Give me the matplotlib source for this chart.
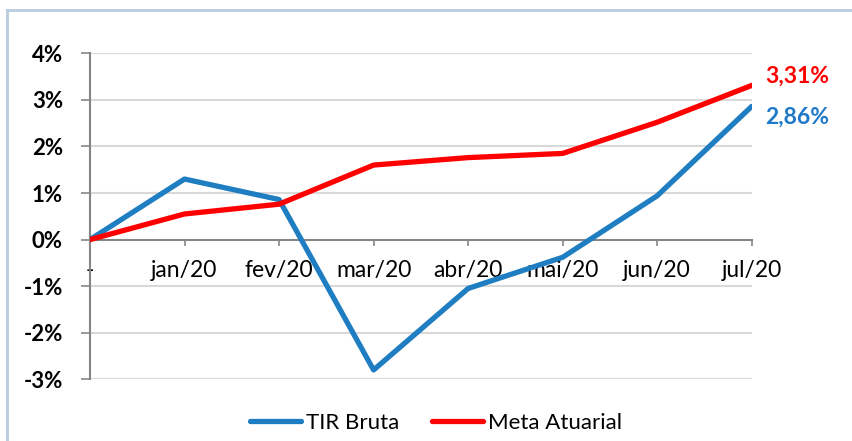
import matplotlib
matplotlib.use("Agg")
import matplotlib.pyplot as plt
from matplotlib.lines import Line2D

categories = ["-", "jan/20", "fev/20", "mar/20", "abr/20", "mai/20", "jun/20", "jul/20"]
tir_bruta = [0.0, 1.30, 0.86, -2.80, -1.05, -0.38, 0.94, 2.86]
meta_atuarial = [0.0, 0.55, 0.76, 1.60, 1.76, 1.85, 2.52, 3.31]
yticks = [-3, -2, -1, 0, 1, 2, 3, 4]
ytick_labels = ["-3%", "-2%", "-1%", "0%", "1%", "2%", "3%", "4%"]
end_labels = ["2,86%", "3,31%"]

plt.rcParams['font.family'] = ['Lato', 'DejaVu Sans']

W, H = 853, 441
fig = plt.figure(figsize=(W / 100, H / 100), dpi=100)
ax = fig.add_axes([90 / W, 1 - 379.3 / H, (751.7 - 90) / W, (379.3 - 53.3) / H])

blue = "#1F7EC1"
red = "#FF0000"
grid_c = "#D9D9D9"
axis_c = "#868686"

x = list(range(len(categories)))
ax.set_xlim(0, len(categories) - 1)
ax.set_ylim(-3, 4)

for y in yticks:
    if y != 0:
        ax.axhline(y, color=grid_c, lw=1.5, zorder=1)

ax.plot(x, tir_bruta, color=blue, lw=3.8, solid_capstyle="round", zorder=3, label="TIR Bruta")
ax.plot(x, meta_atuarial, color=red, lw=3.8, solid_capstyle="round", zorder=4, label="Meta Atuarial")

for s in ["top", "right"]:
    ax.spines[s].set_visible(False)
ax.spines["left"].set_color(axis_c)
ax.spines["left"].set_linewidth(1.5)
ax.spines["bottom"].set_position(("data", 0))
ax.spines["bottom"].set_color(axis_c)
ax.spines["bottom"].set_linewidth(1.5)

ax.set_yticks(yticks)
ax.set_yticklabels(ytick_labels, fontsize=16, fontweight="bold")
ax.tick_params(axis="y", direction="out", length=6.5, width=1.2, color=axis_c, pad=13)

ax.set_xticks(x)
ax.set_xticklabels(categories, fontsize=16.5)
ax.tick_params(axis="x", direction="out", length=4.5, width=1.2, color=axis_c, pad=10)

ax.annotate(end_labels[1], (x[-1], meta_atuarial[-1]), xytext=(10, 6.5), textcoords="offset points",
            color=red, fontsize=16.5, fontweight="bold", ha="left", va="center", annotation_clip=False)
ax.annotate(end_labels[0], (x[-1], tir_bruta[-1]), xytext=(10, -8), textcoords="offset points",
            color="#1F78C8", fontsize=16.5, fontweight="bold", ha="left", va="center", annotation_clip=False)

fig.legend(loc="center", bbox_to_anchor=(436 / W, 1 - 423 / H), ncol=2, frameon=False,
           fontsize=16, handlelength=2.3, handletextpad=0.2, columnspacing=1.5)

border_c = "#B9CBE0"
fig.add_artist(Line2D([7 / W, 7 / W], [0, 1 - 10 / H], color=border_c, lw=2, transform=fig.transFigure))
fig.add_artist(Line2D([7 / W, 1], [1 - 10 / H, 1 - 10 / H], color=border_c, lw=2, transform=fig.transFigure))

fig.savefig("out.png", dpi=100)
